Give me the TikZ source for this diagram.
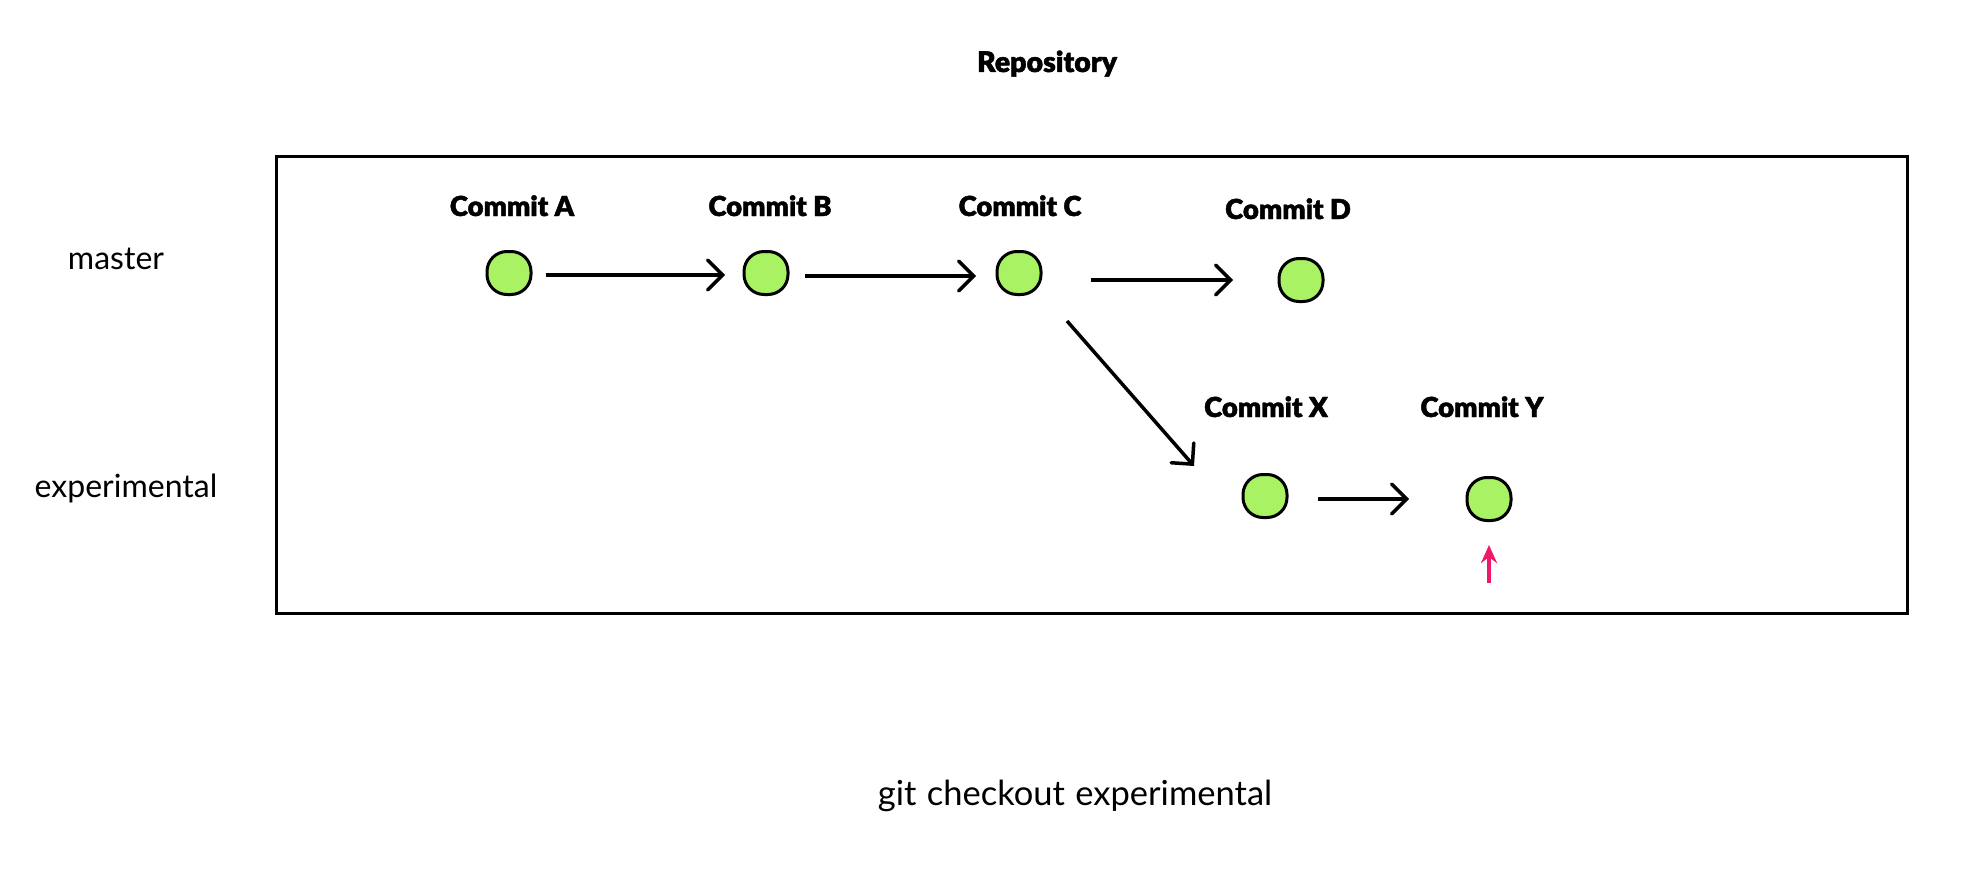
\documentclass[tikz,border=0pt]{standalone}
\usepackage{fontspec}
\setmainfont{Lato}
\newfontfamily\heavy{Lato Black}[FakeBold=1.6]
\usetikzlibrary{arrows.meta}
\definecolor{cgreen}{HTML}{A8F264}
\definecolor{cpink}{HTML}{F0186A}
\begin{document}
\begin{tikzpicture}[x=1pt,y=-1pt,
  commit/.style={draw=black, line width=3pt, fill=cgreen, rounded corners=20pt,
    minimum width=44pt, minimum height=43pt, inner sep=0pt},
  lbl/.style={font=\heavy\fontsize{27.5}{32}\selectfont, inner sep=0pt, anchor=base},
  plain/.style={font=\fontsize{32}{38}\selectfont, inner sep=0pt, anchor=base},
  arr/.style={line width=3.5pt, -{Straight Barb[length=15pt,width=30pt,line cap=round]}},
  pinkarr/.style={cpink, line width=3.5pt, -{Stealth[length=18pt,width=16pt]}}
]
\useasboundingbox (0,0) rectangle (1976,872);
\fill[white] (0,0) rectangle (1976,872);

\draw[line width=3pt] (276,157) rectangle (1907,613);

\node[lbl, font=\heavy\fontsize{28.5}{32}\selectfont] (title) at (1047,72) {Repository};
\node[plain] (master) at (116,269) {master};
\node[plain] (exper) at (126,497) {experimental};
\node[plain, font=\fontsize{34.5}{38}\selectfont] (cmd) at (1075,805) {git\hspace{0.3em}checkout\hspace{0.3em}experimental};

\node[commit] (A) at (509,273) {};
\node[commit] (B) at (766,273) {};
\node[commit] (C) at (1019,273) {};
\node[commit] (D) at (1301,280) {};
\node[commit] (X) at (1265,496) {};
\node[commit] (Y) at (1489,499) {};

\node[lbl] (lA) at (512,216) {Commit A};
\node[lbl] (lB) at (770,216) {Commit B};
\node[lbl] (lC) at (1020,216) {Commit C};
\node[lbl] (lD) at (1288,219) {Commit D};
\node[lbl] (lX) at (1266,417) {Commit X};
\node[lbl] (lY) at (1482,417) {Commit Y};

\draw[arr] ([xshift=13.5pt,yshift=-2pt]A.east) -- ([xshift=-17.5pt,yshift=-2pt]B.west);
\draw[arr] ([xshift=15.5pt,yshift=-3pt]B.east) -- ([xshift=-19.5pt,yshift=-3pt]C.west);
\draw[arr] ([xshift=48.5pt,yshift=-7pt]C.east) -- ([xshift=-44.5pt]D.west);
\draw[arr] ([xshift=48pt,yshift=-48pt]C.center) -- ([xshift=-71pt,yshift=30pt]X.center);
\draw[arr] ([xshift=29.5pt,yshift=-3pt]X.east) -- ([xshift=-56.5pt]Y.west);
\draw[pinkarr] ([yshift=-61pt]Y.south) -- ([yshift=-23pt]Y.south);
\end{tikzpicture}
\end{document}
